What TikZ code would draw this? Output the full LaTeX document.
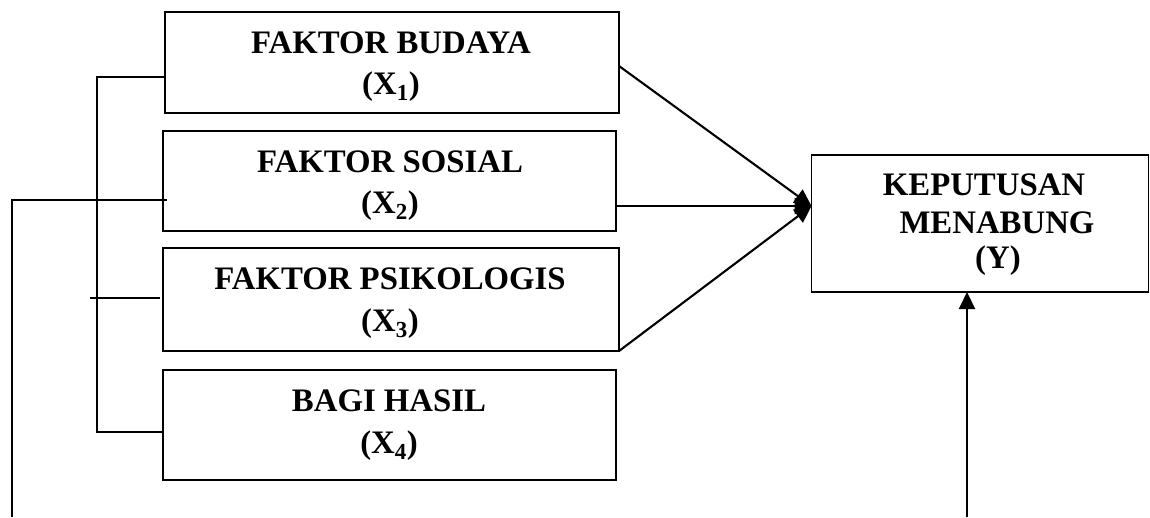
\documentclass[tikz,border=0pt]{standalone}
\usepackage{fontspec}
\setmainfont{Liberation Serif}
\usetikzlibrary{arrows.meta}
\begin{document}
\begin{tikzpicture}[x=1pt,y=-1pt,
  box/.style={draw,line width=1.8pt,rectangle,inner sep=0pt,outer sep=0pt},
  lbl/.style={anchor=base,inner sep=0pt,font=\bfseries\fontsize{32.8}{39}\selectfont},
  link/.style={line width=1.8pt},
  arr/.style={line width=2.1pt,-{Triangle[length=17pt,width=16pt]}}]
\useasboundingbox (0,0) rectangle (1150,517);
% boxes
\node[box,minimum width=454pt,minimum height=101pt] (b1) at (392,62.5) {};
\node[box,minimum width=453pt,minimum height=100pt] (b2) at (389.5,181) {};
\node[box,minimum width=456pt,minimum height=103pt] (b3) at (391,299.5) {};
\node[box,minimum width=453pt,minimum height=110pt] (b4) at (389.5,425) {};
\node[box,minimum width=337pt,minimum height=137pt] (y) at (980,223.5) {};
% texts
\node[lbl] (t1a) at (391,53) {FAKTOR BUDAYA};
\node[lbl] (t1b) at (391,94) {(X\textsubscript{1})};
\node[lbl] (t2a) at (390,172) {FAKTOR SOSIAL};
\node[lbl] (t2b) at (390,213) {(X\textsubscript{2})};
\node[lbl] (t3a) at (390,289) {FAKTOR PSIKOLOGIS};
\node[lbl] (t3b) at (390,331) {(X\textsubscript{3})};
\node[lbl] (t4a) at (389,411) {BAGI HASIL};
\node[lbl] (t4b) at (389,453) {(X\textsubscript{4})};
\node[lbl] (ya) at (984,195) {KEPUTUSAN};
\node[lbl] (yb) at (997,233) {MENABUNG};
\node[lbl] (yc) at (998,268) {(Y)};
% free ends
\coordinate (br1) at (97,77);
\coordinate (br4) at (97,432);
\coordinate (tkA) at (90,298);
\coordinate (tkB) at (160,298);
\coordinate (lgA) at (167,200);
\coordinate (lgB) at (12,200);
\coordinate (lgC) at (12,517);
\coordinate (vA) at (967,517);
% bracket lines
\draw[link] (b1.west |- br1) -- (br1) -- (br4) -- (b4.west |- br4);
\draw[link] (tkA) -- (tkB);
\draw[link] (lgA) -- (lgB) -- (lgC);
% arrows
\draw[arr] (b1.east |- 0,66) -- (y.west |- 0,206);
\draw[arr] (b2.east |- 0,206) -- (y.west |- 0,206);
\draw[arr] (b3.south east) -- (y.west |- 0,206);
\draw[arr] (vA) -- (y.south -| vA);
\end{tikzpicture}
\end{document}
